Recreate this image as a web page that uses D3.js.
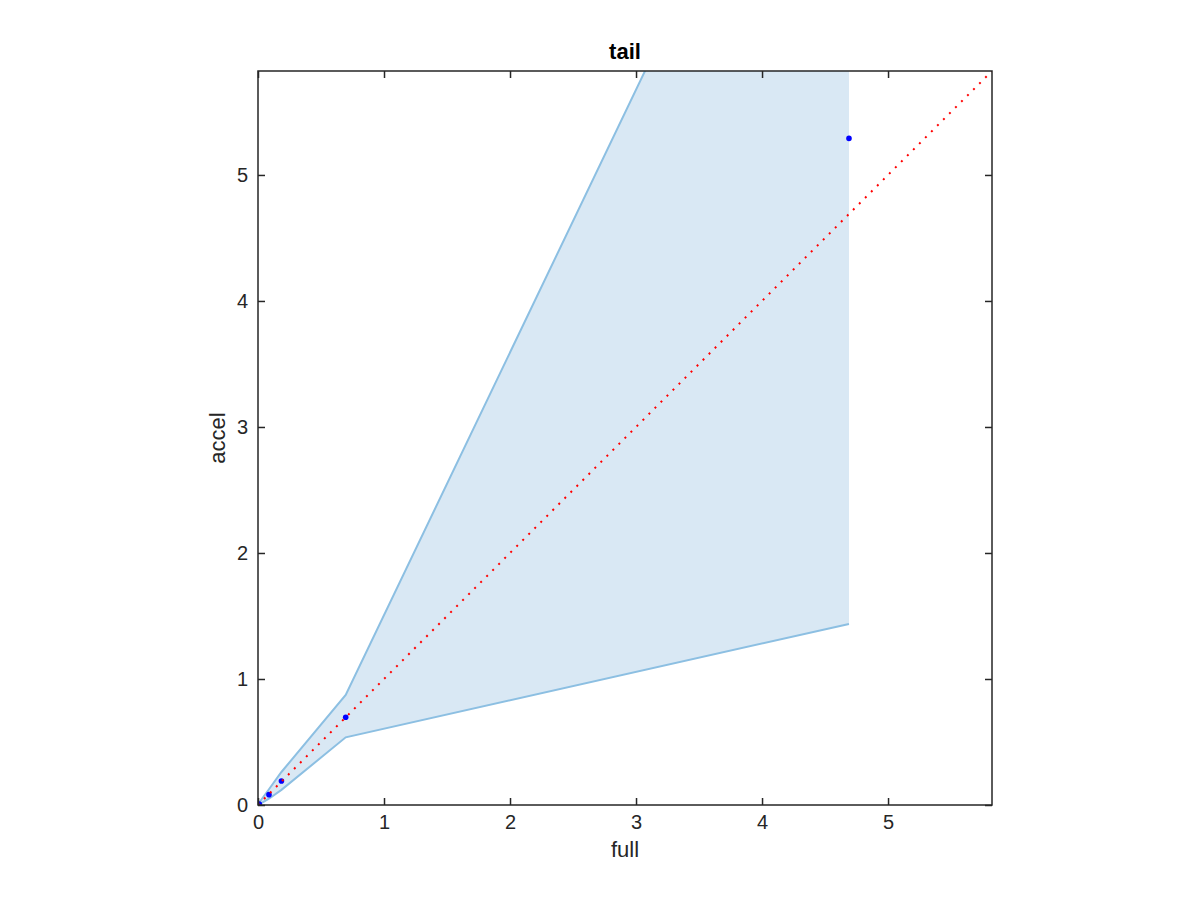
<!DOCTYPE html>
<html><head><meta charset="utf-8">
<script src="https://cdn.jsdelivr.net/npm/d3@7"></script>
<style>body{margin:0;background:#fff}svg{display:block}</style>
</head><body>
<svg id="c" width="1200" height="900"></svg>
<script>
const bandX = [0, 0.01, 0.087, 0.186, 0.696, 4.69];
const bandUpper = [0, 0.02, 0.125, 0.262, 0.873, 9.2];
const bandLower = [0, 0.005, 0.05, 0.12, 0.537, 1.437];
const pointX = [0, 0.01, 0.087, 0.186, 0.696, 4.69];
const pointY = [0, 0.008, 0.082, 0.19, 0.696, 5.29];
const ticks = [0, 1, 2, 3, 4, 5];
const axisMax = 5.825;

const svg = d3.select("#c");
const L = 258, T = 71, R = 992, B = 805;
const x = d3.scaleLinear().domain([0, axisMax]).range([L, R]);
const y = d3.scaleLinear().domain([0, axisMax]).range([B, T]);
const font = "'Liberation Sans', Arial, Helvetica, sans-serif";

svg.append("defs").append("clipPath").attr("id", "clip")
  .append("rect").attr("x", L).attr("y", T).attr("width", R - L).attr("height", B - T);

const g = svg.append("g").attr("clip-path", "url(#clip)");
const band = bandX.map((d, i) => ({x: d, u: bandUpper[i], l: bandLower[i]}));
g.append("path").datum(band)
  .attr("d", d3.area().x(d => x(d.x)).y0(d => y(d.l)).y1(d => y(d.u)))
  .attr("fill", "#d9e8f4").attr("stroke", "none");
g.append("path").datum(band)
  .attr("d", d3.line().x(d => x(d.x)).y(d => y(d.u)))
  .attr("fill", "none").attr("stroke", "#8cbfe2").attr("stroke-width", 2);
g.append("path").datum(band)
  .attr("d", d3.line().x(d => x(d.x)).y(d => y(d.l)))
  .attr("fill", "none").attr("stroke", "#8cbfe2").attr("stroke-width", 2);

g.selectAll("circle.pt").data(pointX.map((d, i) => [d, pointY[i]])).enter()
  .append("circle").attr("class", "pt")
  .attr("cx", d => x(d[0])).attr("cy", d => y(d[1])).attr("r", 2.8)
  .attr("fill", "#0000ff");

g.append("line").attr("x1", x(0)).attr("y1", y(0)).attr("x2", x(axisMax)).attr("y2", y(axisMax))
  .attr("stroke", "#ff0000").attr("stroke-width", 2).attr("stroke-dasharray", "2,6.5");

// axes
const ax = svg.append("g").attr("stroke", "#262626").attr("stroke-width", 1.5);
ax.append("rect").attr("x", L).attr("y", T).attr("width", R - L).attr("height", B - T).attr("fill", "none");
const axBottom = d3.axisBottom(x).tickValues(ticks).tickSize(-7).tickFormat(d3.format("d")).tickPadding(10);
const axLeft = d3.axisLeft(y).tickValues(ticks).tickSize(-7).tickFormat(d3.format("d")).tickPadding(10);
const axTop = d3.axisTop(x).tickValues(ticks).tickSize(-7).tickFormat("");
const axRight = d3.axisRight(y).tickValues(ticks).tickSize(-7).tickFormat("");
[[axBottom, `translate(0,${B})`], [axLeft, `translate(${L},0)`], [axTop, `translate(0,${T})`], [axRight, `translate(${R},0)`]].forEach(([a, t]) => {
  const gg = svg.append("g").attr("transform", t).call(a);
  gg.select(".domain").remove();
  gg.selectAll(".tick line").attr("stroke", "#262626").attr("stroke-width", 1.5);
  gg.selectAll(".tick text").attr("fill", "#262626").style("font-family", font).style("font-size", "20px");
});

svg.append("text").attr("x", (L + R) / 2).attr("y", 857).attr("text-anchor", "middle")
  .style("font-family", font).style("font-size", "22px").attr("fill", "#262626").text("full");
svg.append("text").attr("transform", `translate(225,${(T + B) / 2}) rotate(-90)`).attr("text-anchor", "middle")
  .style("font-family", font).style("font-size", "22px").attr("fill", "#262626").text("accel");
svg.append("text").attr("x", (L + R) / 2).attr("y", 59).attr("text-anchor", "middle")
  .style("font-family", font).style("font-size", "22px").style("font-weight", "bold").attr("fill", "#000").text("tail");
</script>
</body></html>
